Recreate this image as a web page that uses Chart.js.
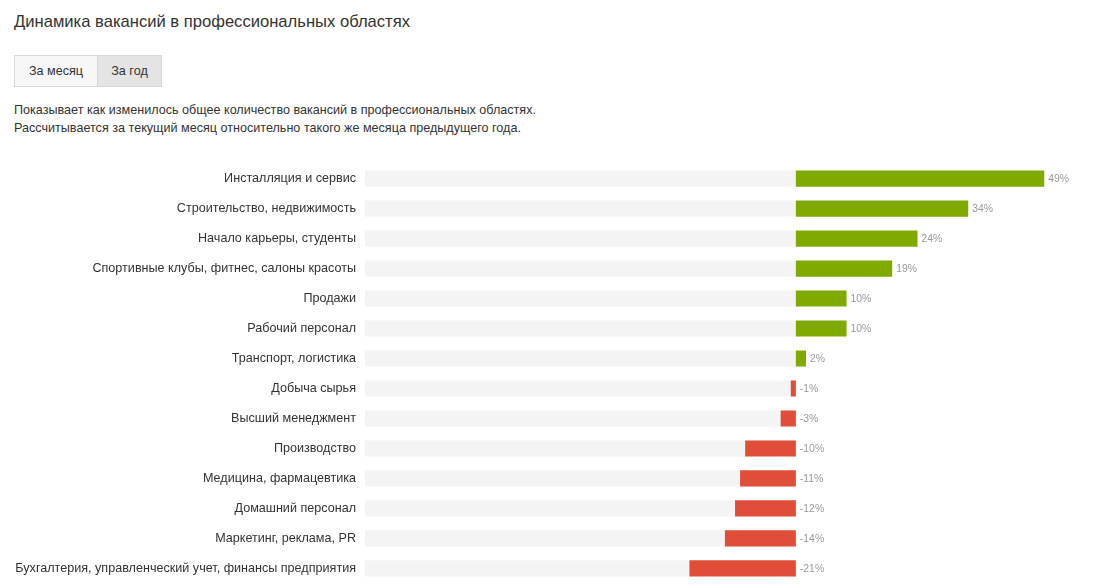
<!DOCTYPE html>
<html lang="ru">
<head>
<meta charset="utf-8">
<script src="https://cdn.jsdelivr.net/npm/chart.js@4"></script>
<style>
  body { margin: 0; background: #fff; font-family: Arial, "Liberation Sans", sans-serif; color: #333; }
  .title { position: absolute; left: 14px; top: 12px; font-size: 16.6px; }
  .tabs { position: absolute; left: 14px; top: 55px; height: 30px; border: 1px solid #d6d6d6; display: flex; font-size: 12.6px; }
  .tab { line-height: 30px; text-align: center; }
  .tab1 { width: 82px; background: #f7f7f7; border-right: 1px solid #d6d6d6; }
  .tab2 { width: 63px; background: #e4e4e4; }
  .desc { position: absolute; left: 14px; top: 101px; font-size: 12.6px; line-height: 18px; }
  .wrap { position: absolute; left: 0; top: 147px; width: 1100px; height: 453px; }
</style>
</head>
<body>
<div class="title">Динамика вакансий в профессиональных областях</div>
<div class="tabs"><div class="tab tab1">За месяц</div><div class="tab tab2">За год</div></div>
<div class="desc">Показывает как изменилось общее количество вакансий в профессиональных областях.<br>Рассчитывается за текущий месяц относительно такого же месяца предыдущего года.</div>
<div class="wrap"><canvas id="myChart"></canvas></div>
<script>
const categories = [
    'Инсталляция и сервис',
    'Строительство, недвижимость',
    'Начало карьеры, студенты',
    'Спортивные клубы, фитнес, салоны красоты',
    'Продажи',
    'Рабочий персонал',
    'Транспорт, логистика',
    'Добыча сырья',
    'Высший менеджмент',
    'Производство',
    'Медицина, фармацевтика',
    'Домашний персонал',
    'Маркетинг, реклама, PR',
    'Бухгалтерия, управленческий учет, финансы предприятия'
];
// change in %, year over year
const changes = [49, 34, 24, 19, 10, 10, 2, -1, -3, -10, -11, -12, -14, -21];
// grey background track on the negative side
const trackValue = -85;
const track = categories.map(() => trackValue);

const green = '#80aa00';
const red = '#e04e39';

// draws "49%" etc. right of the bar (or right of zero for negatives)
const valueLabels = {
    id: 'valueLabels',
    afterDatasetsDraw(chart) {
        const ctx = chart.ctx;
        const x = chart.scales.x;
        const y = chart.scales.y;
        ctx.save();
        ctx.font = '10.4px Arial, "Liberation Sans", sans-serif';
        ctx.fillStyle = '#999';
        ctx.textBaseline = 'middle';
        ctx.textAlign = 'left';
        changes.forEach((v, i) => {
            ctx.fillText(v + '%', x.getPixelForValue(Math.max(v, 0)) + 4, y.getPixelForValue(i) + 1);
        });
        ctx.restore();
    }
};

const ctx = document.getElementById('myChart').getContext('2d');
const chart = new Chart(ctx, {
    type: 'bar',
    data: {
        labels: categories,
        datasets: [{
            label: 'Изменение',
            data: changes,
            backgroundColor: changes.map(v => v >= 0 ? green : red),
            order: 1,
            grouped: false,
            barPercentage: 0.54,
            categoryPercentage: 1
        }, {
            label: 'track',
            data: track,
            backgroundColor: '#f4f4f4',
            order: 2,
            grouped: false,
            barPercentage: 0.54,
            categoryPercentage: 1
        }]
    },
    options: {
        indexAxis: 'y',
        responsive: true,
        maintainAspectRatio: false,
        animation: false,
        layout: { padding: 0 },
        plugins: {
            legend: { display: false },
            tooltip: { enabled: false }
        },
        scales: {
            x: {
                display: false,
                min: -85,
                max: 60
            },
            y: {
                grid: { display: false, drawTicks: false },
                border: { display: false },
                ticks: {
                    color: '#333',
                    padding: 9,
                    font: { size: 12.6, family: 'Arial, "Liberation Sans", sans-serif' }
                },
                afterFit(scale) { scale.width = 365; }
            }
        }
    },
    plugins: [valueLabels]
});
</script>
</body>
</html>
